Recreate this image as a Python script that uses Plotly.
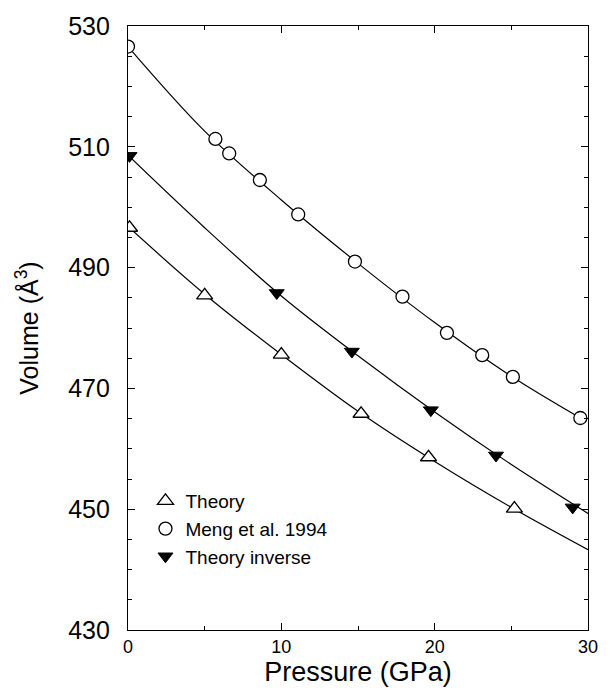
import plotly.graph_objects as go

# --- data ---
theory_p = [0.1, 5.0, 10.0, 15.2, 19.6, 25.2]
theory_v = [496.6, 485.4, 475.6, 465.8, 458.6, 450.1]

meng_p = [0.0, 5.7, 6.6, 8.6, 11.1, 14.8, 17.9, 20.8, 23.1, 25.1, 29.5]
meng_v = [526.6, 511.3, 508.9, 504.5, 498.8, 491.0, 485.2, 479.2, 475.5, 471.9, 465.1]

inverse_p = [0.1, 9.7, 14.6, 19.75, 24.0, 29.0]
inverse_v = [508.5, 485.8, 476.1, 466.4, 458.9, 450.3]

# fitted curves
theory_curve_p = [0, 5, 10, 15, 20, 25, 30]
theory_curve_v = [496.8, 485.6, 475.6, 466.2, 457.9, 450.3, 443.3]

meng_curve_p = [0, 5, 10, 15, 20, 25, 29.5]
meng_curve_v = [526.6, 512.6, 501.2, 490.7, 480.9, 472.0, 465.1]

inverse_curve_p = [0, 5, 10, 15, 20, 25, 30]
inverse_curve_v = [508.6, 496.6, 485.3, 475.4, 466.1, 457.4, 449.3]

x_ticks = [0, 10, 20, 30]
y_ticks = [430, 450, 470, 490, 510, 530]

FONT = "Liberation Sans, Arial, Helvetica, sans-serif"
line_style = dict(color="black", width=1.2, shape="spline", smoothing=1.0)

fig = go.Figure()
for cp, cv in [(theory_curve_p, theory_curve_v), (meng_curve_p, meng_curve_v),
               (inverse_curve_p, inverse_curve_v)]:
    fig.add_trace(go.Scatter(x=cp, y=cv, mode="lines", line=line_style,
                             showlegend=False, hoverinfo="skip"))

fig.add_trace(go.Scatter(x=theory_p, y=theory_v, mode="markers", name="Theory",
                         marker=dict(symbol="triangle-up", size=14, color="white",
                                     line=dict(color="black", width=1.3))))
fig.add_trace(go.Scatter(x=meng_p, y=meng_v, mode="markers", name="Meng et al. 1994",
                         marker=dict(symbol="circle", size=13, color="white",
                                     line=dict(color="black", width=1.3))))
fig.add_trace(go.Scatter(x=inverse_p, y=inverse_v, mode="markers", name="Theory inverse",
                         marker=dict(symbol="triangle-down", size=13, color="black",
                                     line=dict(color="black", width=1))))

fig.update_layout(
    width=610, height=690,
    margin=dict(l=128, r=13, t=21, b=53),
    paper_bgcolor="white", plot_bgcolor="white",
    font=dict(family=FONT, color="black"),
    legend=dict(x=0.038, y=0.245, xanchor="left", yanchor="top",
                font=dict(size=19, family=FONT), bgcolor="rgba(0,0,0,0)",
                itemwidth=30, tracegroupgap=0),
    showlegend=True,
)
fig.update_xaxes(
    range=[0, 30], tickvals=x_ticks, ticktext=[str(t) for t in x_ticks],
    ticks="inside", ticklen=7, tickwidth=1, tickcolor="black",
    minor=dict(dtick=5, ticks="inside", ticklen=4, tickcolor="black"),
    showline=True, linecolor="black", linewidth=1.3, mirror="ticks",
    showgrid=False, zeroline=False,
    tickfont=dict(size=18, family=FONT),
    title=dict(text="Pressure (GPa)", font=dict(size=27, family=FONT), standoff=2),
)
fig.update_yaxes(
    range=[430, 530], tickvals=y_ticks, ticktext=[str(t) for t in y_ticks],
    ticks="inside", ticklen=7, tickwidth=1, tickcolor="black",
    minor=dict(dtick=5, ticks="inside", ticklen=4, tickcolor="black"),
    showline=True, linecolor="black", linewidth=1.3, mirror="ticks",
    showgrid=False, zeroline=False,
    tickfont=dict(size=25, family=FONT), ticklabelstandoff=12,
    title=dict(text="Volume (Å<sup>3</sup>)", font=dict(size=25, family=FONT), standoff=22),
)

fig.write_html("out.html")
